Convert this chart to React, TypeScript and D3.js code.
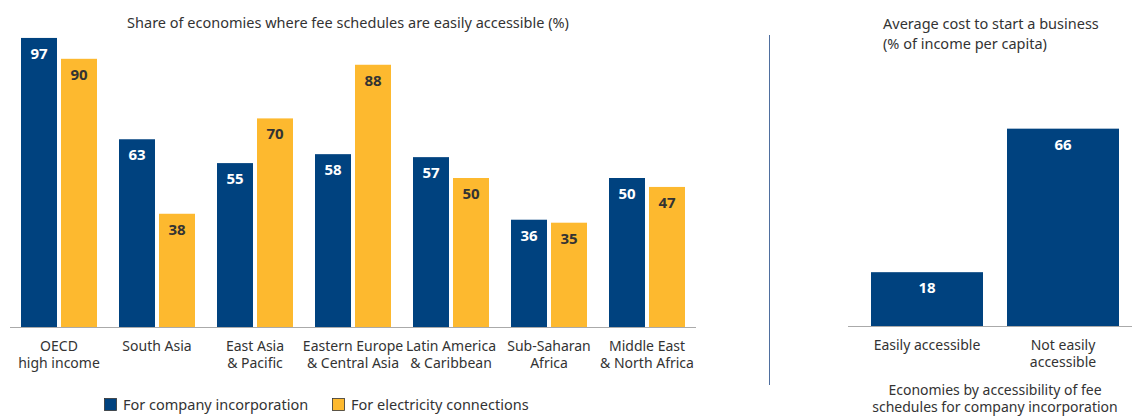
import React from "react";
import * as d3 from "d3";

const categories: string[][] = [
  ["OECD", "high income"],
  ["South Asia"],
  ["East Asia", "& Pacific"],
  ["Eastern Europe", "& Central Asia"],
  ["Latin America", "& Caribbean"],
  ["Sub-Saharan", "Africa"],
  ["Middle East", "& North Africa"],
];
const companyValues = [97, 63, 55, 58, 57, 36, 50];
const electricityValues = [90, 38, 70, 88, 50, 35, 47];
const seriesNames = ["For company incorporation", "For electricity connections"];

const costCategories: string[][] = [["Easily accessible"], ["Not easily", "accessible"]];
const costValues = [18, 66];

const BLUE = "#00427f";
const YELLOW = "#fdb92f";
const TEXT = "#333333";
const FONT = "'Noto Sans', 'Open Sans', sans-serif";

export default function App() {
  const W = 1132, H = 416;
  const keys = categories.map((c) => c.join(" "));
  const x0 = d3.scaleBand<string>().domain(keys).range([10, 696]).paddingInner(22 / 98).paddingOuter(11 / 98);
  const x1 = d3.scaleBand<number>().domain([0, 1]).range([0, x0.bandwidth()]).paddingInner(4 / 40).paddingOuter(0);
  const y = d3.scaleLinear().domain([0, 100]).range([327, 29]);

  const ckeys = costCategories.map((c) => c.join(" "));
  const xr = d3.scaleBand<string>().domain(ckeys).range([859, 1131]).paddingInner(24 / 136).paddingOuter(12 / 136);
  const yr = d3.scaleLinear().domain([0, 100]).range([326, 27]);

  const series = [companyValues, electricityValues];
  const colors = [BLUE, YELLOW];
  const labelColors = ["#ffffff", TEXT];
  const FS = 14;

  return (
    <svg width={W} height={H} style={{ position: "absolute", left: 0, top: 0, fontFamily: FONT }}>
      <rect width={W} height={H} fill="#fff" />
      <text x={348} y={28} textAnchor="middle" fontSize={14.5} fill={TEXT}>
        Share of economies where fee schedules are easily accessible (%)
      </text>
      {keys.map((k, i) => (
        <g key={k} transform={`translate(${x0(k)},0)`}>
          {series.map((s, j) => (
            <g key={j}>
              <rect x={x1(j)} y={y(s[i])} width={x1.bandwidth()} height={y(0) - y(s[i])} fill={colors[j]} />
              <text
                x={(x1(j) as number) + x1.bandwidth() / 2}
                y={y(s[i]) + 21}
                textAnchor="middle"
                fontSize={15}
                fontWeight="bold"
                fill={labelColors[j]}
              >
                {s[i]}
              </text>
            </g>
          ))}
          {categories[i].map((line, li) => (
            <text key={li} x={x0.bandwidth() / 2} y={351 + li * 17} textAnchor="middle" fontSize={FS} fill={TEXT}>
              {line}
            </text>
          ))}
        </g>
      ))}
      <line x1={10} x2={696} y1={327.5} y2={327.5} stroke="#aaaaaa" strokeWidth={1} />

      {/* legend */}
      {seriesNames.map((n, j) => {
        const lx = j === 0 ? 104 : 332;
        return (
          <g key={n}>
            <rect x={lx + 0.5} y={398.5} width={12} height={12} fill={colors[j]} stroke={TEXT} strokeWidth={0.8} />
            <text x={lx + 19} y={410} fontSize={14.5} fill={TEXT}>
              {n}
            </text>
          </g>
        );
      })}

      {/* separator */}
      <line x1={769.5} x2={769.5} y1={35} y2={385} stroke="#4f6f9f" strokeWidth={1} />

      {/* right chart */}
      <text x={883} y={29} fontSize={14.5} fill={TEXT}>Average cost to start a business</text>
      <text x={883} y={49} fontSize={14.5} fill={TEXT}>(% of income per capita)</text>
      {ckeys.map((k, i) => (
        <g key={k}>
          <rect x={xr(k)} y={yr(costValues[i])} width={xr.bandwidth()} height={yr(0) - yr(costValues[i])} fill={BLUE} />
          <text
            x={(xr(k) as number) + xr.bandwidth() / 2}
            y={yr(costValues[i]) + 21}
            textAnchor="middle"
            fontSize={15}
            fontWeight="bold"
            fill="#fff"
          >
            {costValues[i]}
          </text>
          {costCategories[i].map((line, li) => (
            <text
              key={li}
              x={(xr(k) as number) + xr.bandwidth() / 2}
              y={350 + li * 17}
              textAnchor="middle"
              fontSize={FS}
              fill={TEXT}
            >
              {line}
            </text>
          ))}
        </g>
      ))}
      <line x1={848} x2={1132} y1={326.5} y2={326.5} stroke="#aaaaaa" strokeWidth={1} />
      <text x={995} y={395} textAnchor="middle" fontSize={FS} fill={TEXT}>Economies by accessibility of fee</text>
      <text x={995} y={412} textAnchor="middle" fontSize={FS} fill={TEXT}>schedules for company incorporation</text>
    </svg>
  );
}
